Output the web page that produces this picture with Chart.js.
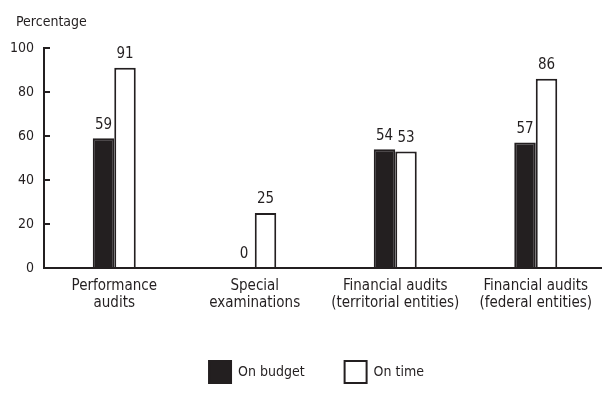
<!DOCTYPE html>
<html>
<head>
<meta charset="utf-8">
<script src="https://cdn.jsdelivr.net/npm/chart.js@4.4.1/dist/chart.umd.min.js"></script>
<style>
  html, body { margin: 0; padding: 0; background: #ffffff; overflow: hidden; }
  #wrap { width: 606px; height: 398px; }
</style>
</head>
<body>
<div id="wrap"><canvas id="chart" width="606" height="398"></canvas></div>
<script>
// Audit categories (two-line labels)
const categories = [
  ['Performance', 'audits'],
  ['Special', 'examinations'],
  ['Financial audits', '(territorial entities)'],
  ['Financial audits', '(federal entities)']
];
// Share of audits completed on budget / on time (%)
const onBudget = [59, 0, 54, 57];
const onTime = [91, 25, 53, 86];
const yTicks = [0, 20, 40, 60, 80, 100];
const yCaption = 'Percentage';

const INK = '#231f20';
const FONT = "'DejaVu Sans Condensed', 'Liberation Sans Narrow', sans-serif";

// Value labels above each bar
const valueLabels = {
  id: 'valueLabels',
  afterDatasetsDraw(chart) {
    const ctx = chart.ctx;
    ctx.save();
    ctx.fillStyle = INK;
    ctx.font = '15px ' + FONT;
    ctx.textAlign = 'center';
    ctx.textBaseline = 'bottom';
    chart.data.datasets.forEach((ds, i) => {
      chart.getDatasetMeta(i).data.forEach((bar, j) => {
        ctx.fillText(String(ds.data[j]), bar.x, bar.y - 6);
      });
    });
    ctx.restore();
  }
};

// Unit caption above the value axis
const axisCaption = {
  id: 'axisCaption',
  afterDraw(chart) {
    const ctx = chart.ctx;
    const area = chart.chartArea;
    ctx.save();
    ctx.fillStyle = INK;
    ctx.font = '14px ' + FONT;
    ctx.textAlign = 'left';
    ctx.textBaseline = 'alphabetic';
    ctx.fillText(yCaption, area.left - 28, area.top - 22);
    ctx.restore();
  }
};

// Centre the legend under the plotted categories rather than the full canvas
const legendShift = {
  id: 'legendShift',
  afterLayout(chart) {
    if (chart.legend) chart.legend.left += 27;
  }
};

new Chart(document.getElementById('chart'), {
  type: 'bar',
  data: {
    labels: categories,
    datasets: [
      { label: 'On budget', data: onBudget, backgroundColor: INK, borderColor: INK, borderWidth: 2 },
      { label: 'On time', data: onTime, backgroundColor: '#ffffff', borderColor: INK, borderWidth: 2 }
    ]
  },
  options: {
    responsive: false,
    animation: false,
    devicePixelRatio: 1,
    layout: { padding: { left: 0, right: 0, top: 48, bottom: 5 } },
    datasets: { bar: { barPercentage: 1, categoryPercentage: 0.306 } },
    scales: {
      x: {
        afterFit(scale) { scale.height += 7; },
        grid: { display: false },
        border: { display: true, color: INK, width: 2 },
        ticks: { color: INK, font: { family: FONT, size: 15, lineHeight: 1.133 }, padding: 2, maxRotation: 0, autoSkip: false }
      },
      y: {
        min: 0,
        max: 100,
        afterFit(scale) { scale.width = 44; },
        afterBuildTicks(scale) { scale.ticks = yTicks.map(v => ({ value: v })); },
        grid: { drawOnChartArea: false, drawTicks: true, tickLength: -6, color: INK, lineWidth: 2 },
        border: { display: true, color: INK, width: 2 },
        ticks: { color: INK, font: { family: FONT, size: 14 }, padding: 16 }
      }
    },
    plugins: {
      title: { display: false },
      legend: {
        position: 'bottom',
        labels: {
          color: INK,
          font: { family: FONT, size: 14 },
          boxWidth: 22,
          boxHeight: 22,
          padding: 40
        }
      },
      tooltip: { enabled: false }
    }
  },
  plugins: [valueLabels, axisCaption, legendShift]
});
</script>
</body>
</html>
